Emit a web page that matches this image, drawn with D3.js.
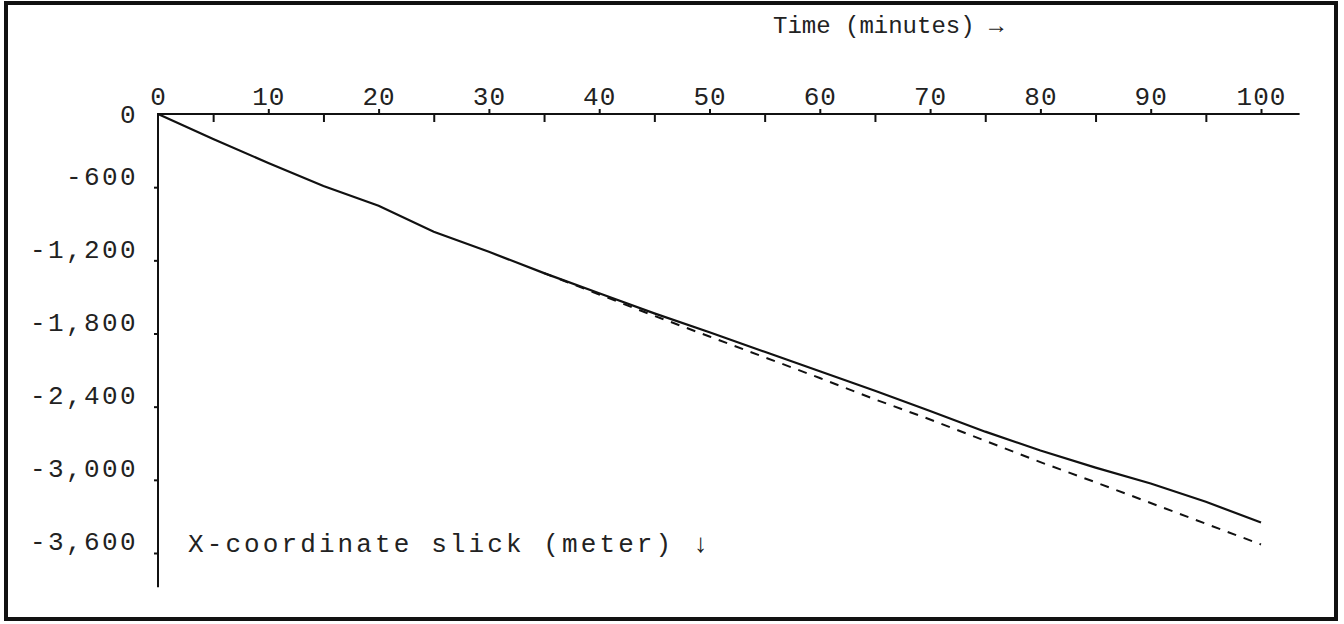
<!DOCTYPE html>
<html>
<head>
<meta charset="utf-8">
<script src="https://cdn.jsdelivr.net/npm/d3@7/dist/d3.min.js"></script>
<style>
  html, body { margin: 0; padding: 0; background: #fff; }
  svg text { font-family: "Liberation Mono", "DejaVu Sans Mono", monospace; fill: #222; }
</style>
</head>
<body>
<svg id="chart" width="1344" height="624"></svg>
<script>
'use strict';

// data (time in minutes, X-coordinate in meter)
var solidTimes = [0, 5, 10, 15, 20, 25, 30, 35, 40, 45, 50, 55, 60, 65, 70, 75, 80, 85, 90, 95, 100];
var solidValues = [0, -205, -402, -590, -752, -965, -1130, -1305, -1470, -1635, -1790, -1950, -2110, -2270, -2435, -2605, -2760, -2900, -3030, -3180, -3350];

var dashedTimes = [35, 40, 45, 50, 55, 60, 65, 70, 75, 80, 85, 90, 95, 100];
var dashedValues = [-1305, -1480, -1655, -1825, -1995, -2165, -2340, -2505, -2680, -2855, -3020, -3190, -3360, -3530];

var majorTicks = [0, 10, 20, 30, 40, 50, 60, 70, 80, 90, 100];
var minorTicks = [5, 15, 25, 35, 45, 55, 65, 75, 85, 95];
var yTicks = [0, -600, -1200, -1800, -2400, -3000, -3600];

var xTitle = 'Time (minutes) \u2192';
var yTitle = 'X-coordinate slick (meter) \u2193';

var svg = d3.select('#chart');

// scales
var x = d3.scaleLinear().domain([0, 100]).range([158, 1261]);
var y = d3.scaleLinear().domain([0, -3600]).range([114, 553]);

var xEnd = 103.5;   // axis line runs a bit past 100
var yEnd = -3880;   // and below -3600

var fmt = d3.formatLocale({decimal: '.', thousands: ',', grouping: [3], currency: ['', ''], minus: '-'}).format(',');

// frame
svg.append('rect')
  .attr('x', 6).attr('y', 3)
  .attr('width', 1330).attr('height', 616)
  .attr('fill', 'none')
  .attr('stroke', '#111')
  .attr('stroke-width', 4);

// axis lines
svg.append('line')
  .attr('x1', x(0) - 1).attr('x2', x(xEnd))
  .attr('y1', y(0)).attr('y2', y(0))
  .attr('stroke', '#111').attr('stroke-width', 2);

svg.append('line')
  .attr('x1', x(0)).attr('x2', x(0))
  .attr('y1', y(0)).attr('y2', y(yEnd))
  .attr('stroke', '#111').attr('stroke-width', 2);

// major x ticks point up, with labels
var xMajor = svg.append('g')
  .attr('transform', 'translate(0,' + y(0) + ')')
  .call(d3.axisTop(x).tickValues(majorTicks).tickSize(5).tickPadding(4).tickFormat(d3.format('d')));
xMajor.select('.domain').remove();
xMajor.selectAll('line').attr('stroke', '#111').attr('stroke-width', 2);
xMajor.selectAll('line').filter(function(d){ return d === 0; }).remove();
xMajor.selectAll('text')
  .attr('font-size', 26)
  .attr('letter-spacing', 1)
  .attr('fill', '#222');

// minor x ticks point down
var xMinor = svg.append('g')
  .attr('transform', 'translate(0,' + y(0) + ')')
  .call(d3.axisBottom(x).tickValues(minorTicks).tickSize(8).tickFormat(''));
xMinor.select('.domain').remove();
xMinor.selectAll('line').attr('stroke', '#111').attr('stroke-width', 2);

// y axis
var yAxis = svg.append('g')
  .attr('transform', 'translate(' + x(0) + ',0)')
  .call(d3.axisLeft(y).tickValues(yTicks).tickSize(4).tickPadding(16).tickFormat(fmt));
yAxis.select('.domain').remove();
yAxis.selectAll('line').attr('stroke', '#111').attr('stroke-width', 2);
yAxis.selectAll('line').filter(function(d){ return d === 0; }).remove();
yAxis.selectAll('text')
  .attr('font-size', 26)
  .attr('letter-spacing', 2.4)
  .attr('fill', '#222')
  .attr('dy', function(d){ return d === 0 ? '0.34em' : '-0.12em'; });

// lines
var line = d3.line()
  .x(function(d){ return x(d[0]); })
  .y(function(d){ return y(d[1]); });

svg.append('path')
  .datum(d3.zip(dashedTimes, dashedValues))
  .attr('d', line)
  .attr('fill', 'none')
  .attr('stroke', '#111')
  .attr('stroke-width', 2)
  .attr('stroke-dasharray', '9,8');

svg.append('path')
  .datum(d3.zip(solidTimes, solidValues))
  .attr('d', line)
  .attr('fill', 'none')
  .attr('stroke', '#111')
  .attr('stroke-width', 2.2);

// titles
svg.append('text')
  .attr('x', 773).attr('y', 33)
  .attr('font-size', 24)
  .attr('letter-spacing', 0)
  .text(xTitle);

svg.append('text')
  .attr('x', 188).attr('y', 552)
  .attr('font-size', 26)
  .attr('letter-spacing', 3.1)
  .text(yTitle);
</script>
</body>
</html>
